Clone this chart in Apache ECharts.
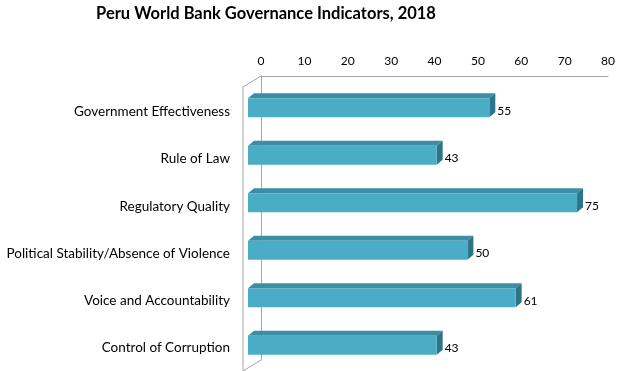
<!DOCTYPE html>
<html>
<head>
<meta charset="utf-8">
<script src="https://cdn.jsdelivr.net/npm/echarts@6/dist/echarts.min.js"></script>
<style>html,body{margin:0;padding:0;background:#fff}#c{width:626px;height:371px}</style>
</head>
<body>
<div id="c"></div>
<script>
var categories = ["Government Effectiveness", "Rule of Law", "Regulatory Quality", "Political Stability/Absence of Violence", "Voice and Accountability", "Control of Corruption"];
var values = [55, 43, 75, 50, 61, 43];
var xTicks = [0, 10, 20, 30, 40, 50, 60, 70, 80];

var FONT = "Lato";
var chart = echarts.init(document.getElementById('c'), null, {renderer: 'canvas'});
var wallColor = '#a6a6a6';
var DX = 6, DY = 5;

var option = {
  animation: false,
  backgroundColor: '#ffffff',
  title: {
    text: 'Peru World Bank Governance Indicators, 2018',
    left: 261, top: 0, textAlign: 'center',
    textStyle: {fontFamily: FONT, fontSize: 16.5, fontWeight: 'bold', color: '#000'}
  },
  grid: [
    {left: 261, top: 76, width: 347, height: 284, containLabel: false},
    {left: 248, top: 84, width: 351, height: 285, containLabel: false},
    {left: 243, top: 88.5, width: 351, height: 285, containLabel: false}
  ],
  xAxis: [
    {gridIndex: 0, type: 'value', position: 'top', min: xTicks[0], max: xTicks[xTicks.length - 1], interval: 10,
      axisLine: {show: true, lineStyle: {color: wallColor, width: 1}},
      axisTick: {show: false}, splitLine: {show: false},
      axisLabel: {fontFamily: FONT, fontSize: 12, color: '#000', margin: 9}},
    {gridIndex: 1, type: 'value', min: 0, max: 80, show: false},
    {gridIndex: 2, type: 'value', min: 0, max: 80, show: false}
  ],
  yAxis: [
    {gridIndex: 0, type: 'category', data: categories, inverse: true,
      axisLine: {show: true, lineStyle: {color: wallColor, width: 1}},
      axisTick: {show: false}, axisLabel: {show: false}, splitLine: {show: false}},
    {gridIndex: 1, type: 'category', data: categories, inverse: true, show: false},
    {gridIndex: 2, type: 'category', data: categories, inverse: true,
      axisLine: {show: false}, axisTick: {show: false}, splitLine: {show: false},
      axisLabel: {fontFamily: FONT, fontSize: 13.5, color: '#000', margin: 13}}
  ],
  graphic: [
    {type: 'line', shape: {x1: 261, y1: 76, x2: 243, y2: 87}, style: {stroke: wallColor, lineWidth: 1}},
    {type: 'line', shape: {x1: 243, y1: 87, x2: 243, y2: 371}, style: {stroke: wallColor, lineWidth: 1}},
    {type: 'line', shape: {x1: 261, y1: 360, x2: 243, y2: 371}, style: {stroke: wallColor, lineWidth: 1}}
  ],
  series: [{
    type: 'custom',
    xAxisIndex: 1, yAxisIndex: 1,
    data: values.map(function (v, i) { return [v, i]; }),
    renderItem: function (params, api) {
      var v = api.value(0), c = api.value(1);
      var p0 = api.coord([0, c]);
      var p1 = api.coord([v, c]);
      var h = api.size([0, 1])[1] * 0.4;
      var x0 = p0[0], x1 = p1[0];
      var yt = p1[1] - h / 2, yb = p1[1] + h / 2;
      return {
        type: 'group',
        children: [
          {type: 'polygon', shape: {points: [[x0, yt], [x1, yt], [x1 + DX, yt - DY], [x0 + DX, yt - DY]]},
            style: {fill: '#3a8fa6'}},
          {type: 'polygon', shape: {points: [[x1, yt], [x1 + DX, yt - DY], [x1 + DX, yb - DY], [x1, yb]]},
            style: {fill: '#2d7488'}},
          {type: 'rect', shape: {x: x0, y: yt, width: x1 - x0, height: yb - yt},
            style: {fill: '#4bacc6'}},
          {type: 'text', x: x1 + DX + 2, y: p1[1] + 3,
            style: {text: String(v), fill: '#000', font: '12px "' + FONT + '"', verticalAlign: 'middle', align: 'left'}}
        ]
      };
    }
  }]
};
chart.setOption(option);
</script>
</body>
</html>
